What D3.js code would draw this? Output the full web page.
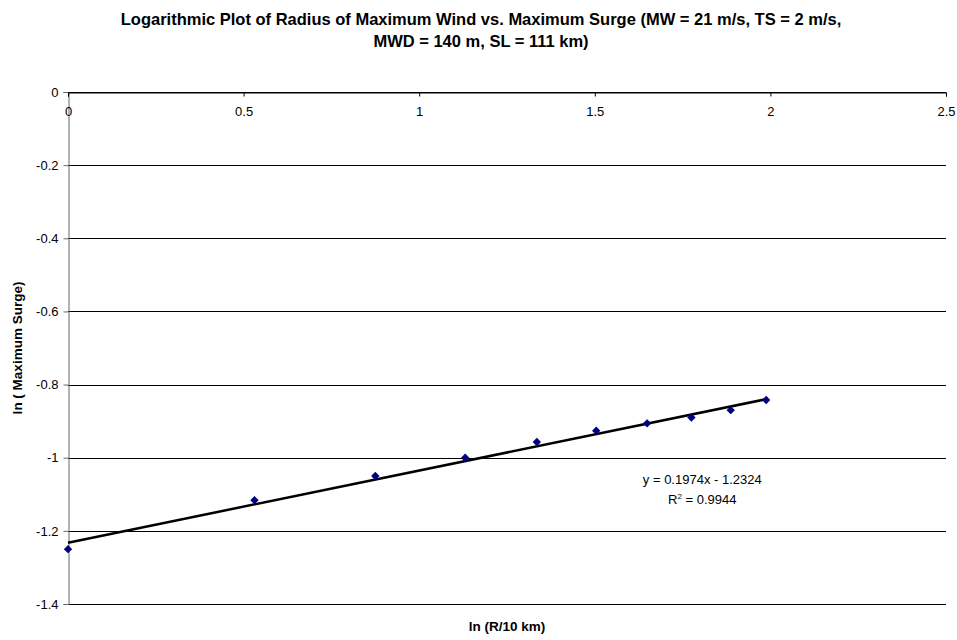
<!DOCTYPE html>
<html>
<head>
<meta charset="utf-8">
<script src="https://cdn.jsdelivr.net/npm/d3@7"></script>
<style>
  body { margin: 0; background: #fff; }
  text { font-family: "Liberation Sans", Arial, sans-serif; }
</style>
</head>
<body>
<div id="chart"></div>
<script>
// ln(R/10 km) and ln(max surge)
const lnRadius = [0, 0.531, 0.875, 1.131, 1.335, 1.504, 1.649, 1.775, 1.887, 1.988];
const lnSurge = [-1.250, -1.116, -1.050, -1.000, -0.957, -0.926, -0.906, -0.890, -0.870, -0.842];
const slope = 0.1974;
const intercept = -1.2324;
const xTicks = [0, 0.5, 1, 1.5, 2, 2.5];
const yTicks = [0, -0.2, -0.4, -0.6, -0.8, -1, -1.2, -1.4];

const width = 957, height = 640;
const margin = { top: 92, right: 11, bottom: 36, left: 68 };
const chartWidth = width - margin.left - margin.right;
const chartHeight = height - margin.top - margin.bottom;

const svg = d3.select("#chart").append("svg")
    .attr("width", width)
    .attr("height", height);

const g = svg.append("g")
    .attr("transform", `translate(${margin.left},${margin.top})`);

const x = d3.scaleLinear().domain([0, 2.5]).range([0, chartWidth]);
const y = d3.scaleLinear().domain([-1.4, 0]).range([chartHeight, 0]);

// Horizontal gridlines
g.selectAll("line.grid")
    .data(yTicks)
    .enter()
    .append("line")
    .attr("class", "grid")
    .attr("x1", 0)
    .attr("x2", chartWidth)
    .attr("y1", d => Math.round(y(d)) + 0.5)
    .attr("y2", d => Math.round(y(d)) + 0.5)
    .attr("stroke", "#000")
    .attr("stroke-width", 1);

// Y axis
const yAxis = g.append("g")
    .attr("transform", "translate(0.5,0)")
    .call(d3.axisLeft(y).tickValues(yTicks).tickSize(5).tickFormat(d => String(d)));
yAxis.select(".domain").attr("stroke", "#666");
yAxis.selectAll(".tick line").attr("stroke", "#666");
yAxis.selectAll(".tick text")
    .attr("x", -10)
    .style("font-size", "13px")
    .style("font-family", "Liberation Sans, Arial, sans-serif")
    .attr("fill", "#000");

// X axis (sits at y = 0, at the top)
const xAxis = g.append("g")
    .attr("transform", `translate(0,${Math.round(y(0)) + 0.5})`)
    .call(d3.axisBottom(x).tickValues(xTicks).tickSize(4).tickFormat(d => String(d)));
xAxis.select(".domain").attr("stroke", "#000");
xAxis.selectAll(".tick line").attr("stroke", "#000");
xAxis.selectAll(".tick text")
    .attr("y", 14)
    .style("font-size", "13px")
    .style("font-family", "Liberation Sans, Arial, sans-serif")
    .attr("fill", "#000");

// Trend line
g.append("line")
    .attr("x1", x(0))
    .attr("y1", y(intercept))
    .attr("x2", x(d3.max(lnRadius)))
    .attr("y2", y(slope * d3.max(lnRadius) + intercept))
    .attr("stroke", "#000")
    .attr("stroke-width", 2.5);

// Data markers (diamonds)
g.selectAll("path.pt")
    .data(lnRadius)
    .enter()
    .append("path")
    .attr("class", "pt")
    .attr("d", d3.symbol().type(d3.symbolDiamond2).size(45))
    .attr("transform", (d, i) => `translate(${x(d)},${y(lnSurge[i])})`)
    .attr("fill", "#000080");

// Equation
const eq = g.append("text")
    .attr("x", x(1.806))
    .attr("text-anchor", "middle")
    .style("font-size", "13px");
eq.append("tspan")
    .attr("x", x(1.806))
    .attr("y", y(-1.062) + 4)
    .text(`y = ${slope}x - ${Math.abs(intercept)}`);
const r2 = eq.append("tspan")
    .attr("x", x(1.806))
    .attr("y", y(-1.116) + 4);
r2.append("tspan").text("R");
r2.append("tspan").attr("dy", -5).style("font-size", "8px").text("2");
r2.append("tspan").attr("dy", 5).text(" = 0.9944");

// Title
const title = svg.append("text")
    .attr("text-anchor", "middle")
    .style("font-size", "16.5px")
    .style("font-weight", "bold");
title.append("tspan").attr("x", 481).attr("y", 25)
    .text("Logarithmic Plot of Radius of Maximum Wind vs. Maximum Surge (MW = 21 m/s, TS = 2 m/s,");
title.append("tspan").attr("x", 481).attr("y", 47)
    .text("MWD = 140 m, SL = 111 km)");

// Axis titles
svg.append("text")
    .attr("x", margin.left + chartWidth / 2)
    .attr("y", 631)
    .attr("text-anchor", "middle")
    .style("font-size", "13.5px")
    .style("font-weight", "bold")
    .text("ln (R/10 km)");

svg.append("text")
    .attr("transform", `translate(22,${margin.top + chartHeight / 2}) rotate(-90)`)
    .attr("text-anchor", "middle")
    .style("font-size", "13.5px")
    .style("font-weight", "bold")
    .text("ln ( Maximum Surge)");
</script>
</body>
</html>
